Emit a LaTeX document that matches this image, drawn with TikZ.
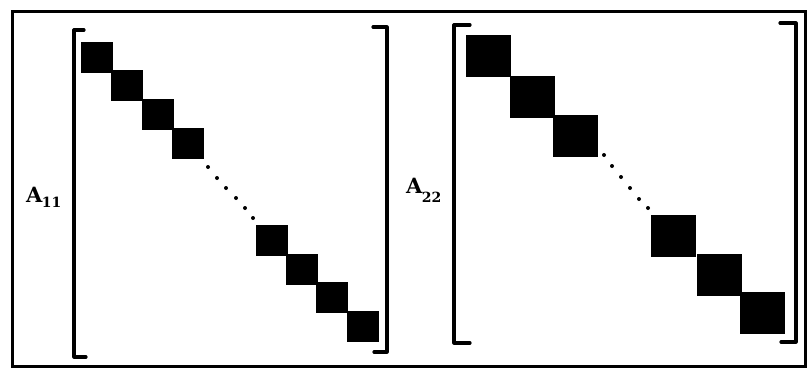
\documentclass[tikz,border=0pt]{standalone}
\usepackage{fontspec}
\newfontfamily\lblfont{DejaVu Serif}
\begin{document}
\begin{tikzpicture}[x=1pt,y=-1pt,
  blk/.style={fill=black,draw=none},
  brk/.style={line width=3.2pt,line cap=round,line join=round},
  frm/.style={line width=3pt},
  dotm/.style={fill=black},
  lbl/.style={inner sep=0pt,font=\lblfont\bfseries\fontsize{21}{21}\selectfont},
  sub/.style={inner sep=0pt,font=\lblfont\bfseries\fontsize{14}{14}\selectfont}]
\useasboundingbox (0,0) rectangle (807,373);
\fill[white] (0,0) rectangle (807,373);
% frame
\draw[frm] (12,11) rectangle (805,366);
% left matrix brackets
\draw[brk] (84,30) -- (74,30) -- (74,357) -- (86,357);
\draw[brk] (373,27) -- (387,27) -- (387,352) -- (374,352);
% left matrix blocks
\foreach \x/\y in {81/42,111/70,142/99,172/128,256/225,286/254,316/282,347/311}
  \fill[blk] (\x,\y) rectangle ++(32,31);
\foreach \x/\y in {208/167,217/178,226/188,236/198,245/208,253/218}
  \fill[dotm] (\x,\y) circle (2);
% right matrix brackets
\draw[brk] (470,25) -- (454,25) -- (454,343) -- (470,343);
\draw[brk] (780,23) -- (796,23) -- (796,342) -- (781,342);
% right matrix blocks
\foreach \x/\y in {466/35,510/76,553/115,651/215,697/254,740/292}
  \fill[blk] (\x,\y) rectangle ++(45,42);
\foreach \x/\y in {604/155,612/166,621/177,630/188,639/199,648/208}
  \fill[dotm] (\x,\y) circle (2);
% labels
\node[lbl,anchor=base west] (a1) at (26,202) {A};
\node[sub,anchor=base west] (s1) at (a1.base east) [yshift=-5pt,xshift=-1pt] {11};
\node[lbl,anchor=base west] (a2) at (406,193) {A};
\node[sub,anchor=base west] (s2) at (a2.base east) [yshift=-9pt,xshift=-1pt] {22};
\end{tikzpicture}
\end{document}
